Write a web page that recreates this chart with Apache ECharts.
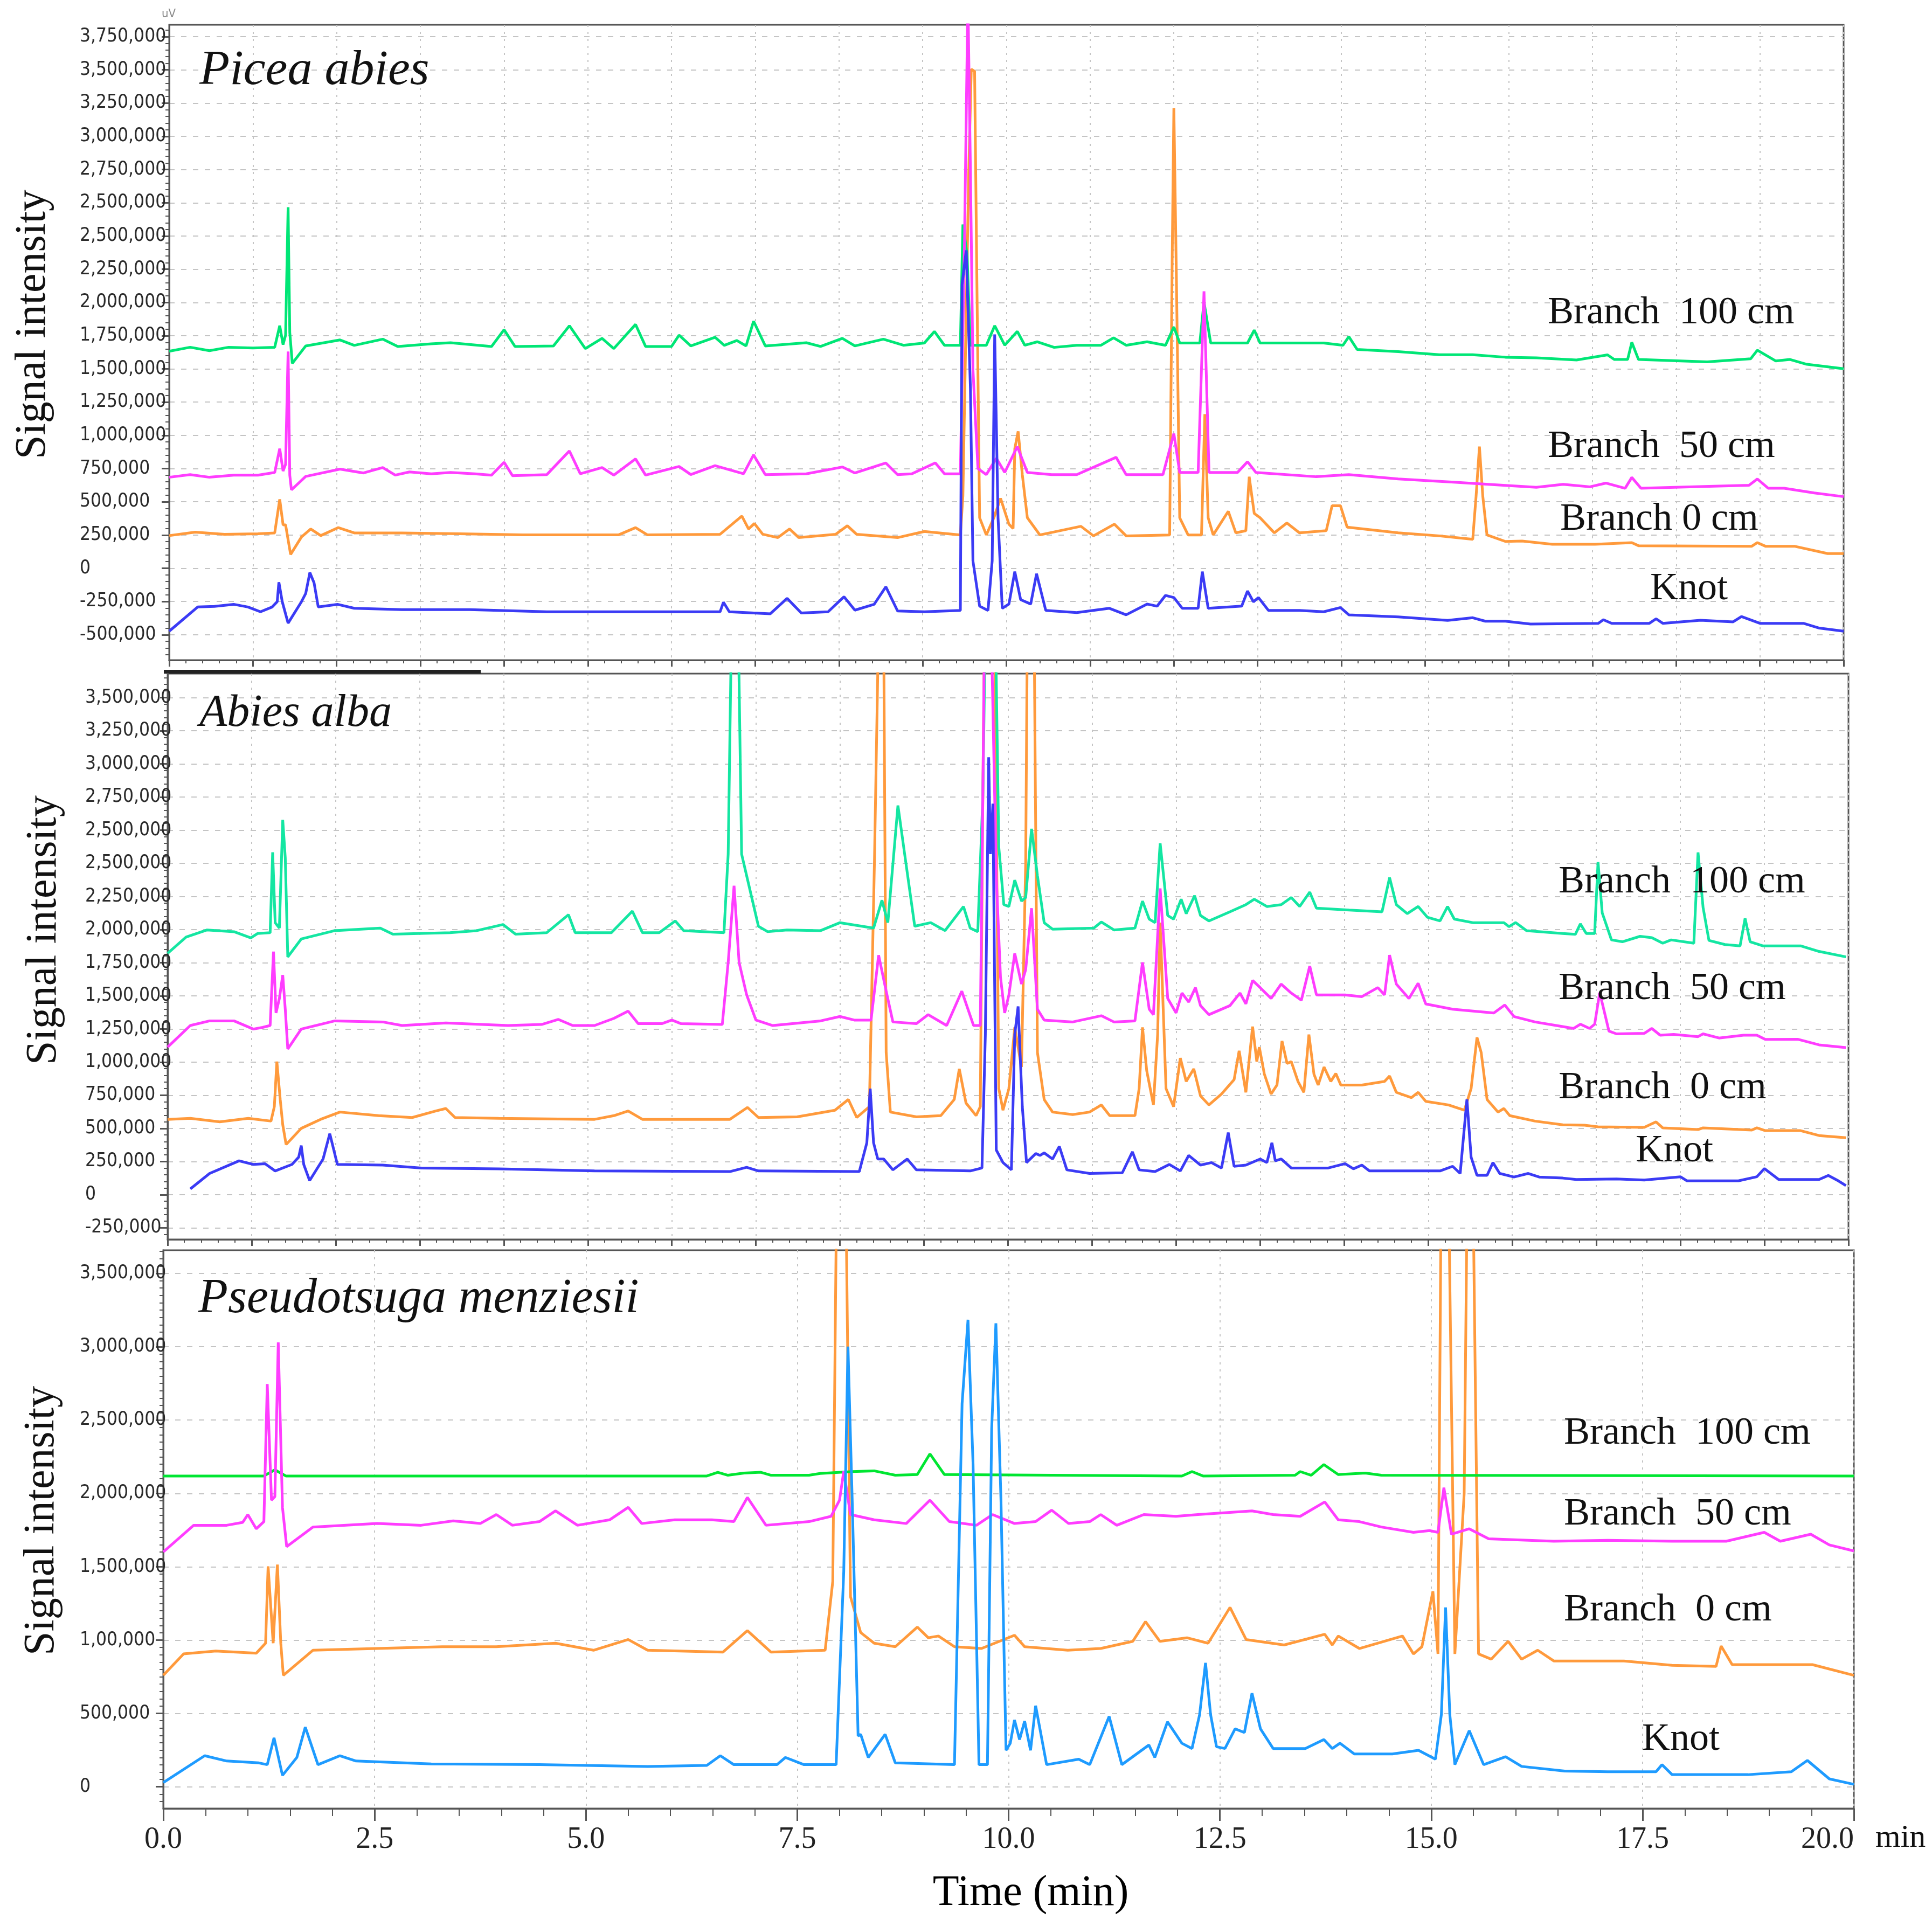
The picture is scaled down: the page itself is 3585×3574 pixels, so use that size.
<!DOCTYPE html>
<html>
<head>
<meta charset="utf-8">
<script src="https://cdn.jsdelivr.net/npm/echarts@6/dist/echarts.min.js"></script>
<style>
  html, body { margin: 0; padding: 0; background: #fff; }
  #chart { width: 3585px; height: 3574px; }
</style>
</head>
<body>
<div id="chart"></div>
<script>
// chromatograms, [time (min), signal (x1000)]
const p1Branch100 = [[0,1633],[0.25,1663],[0.48,1637],[0.71,1663],[1.0,1657],[1.26,1663],[1.32,1825],[1.36,1683],[1.39,1754],[1.42,2716],[1.44,1774],[1.47,1542],[1.63,1673],[2.04,1718],[2.21,1677],[2.55,1724],[2.73,1669],[3.13,1689],[3.36,1697],[3.85,1669],[4.0,1795],[4.13,1669],[4.59,1673],[4.78,1825],[4.97,1653],[5.17,1730],[5.31,1653],[5.57,1835],[5.69,1669],[6.0,1669],[6.09,1754],[6.23,1673],[6.52,1738],[6.63,1677],[6.78,1714],[6.89,1673],[6.98,1859],[7.12,1673],[7.61,1697],[7.78,1669],[8.04,1730],[8.19,1673],[8.53,1724],[8.77,1678],[9.02,1695],[9.14,1782],[9.26,1678],[9.45,1678],[9.48,2587],[9.53,2360],[9.57,1678],[9.76,1678],[9.86,1825],[9.98,1678],[10.13,1782],[10.22,1678],[10.37,1704],[10.57,1662],[10.84,1678],[11.13,1678],[11.28,1734],[11.43,1678],[11.68,1704],[11.9,1678],[12.0,1815],[12.07,1695],[12.31,1695],[12.36,2003],[12.44,1695],[12.88,1695],[12.96,1792],[13.03,1695],[13.5,1695],[13.79,1695],[14.02,1678],[14.09,1743],[14.19,1646],[14.68,1630],[15.17,1607],[15.57,1607],[15.96,1588],[16.33,1583],[16.81,1567],[17.18,1606],[17.26,1571],[17.42,1571],[17.47,1700],[17.55,1571],[18.37,1553],[18.89,1576],[18.97,1641],[19.19,1560],[19.36,1571],[19.55,1536],[20.0,1501]];
const p1Branch50 = [[0,685],[0.25,705],[0.48,685],[0.77,701],[1.06,701],[1.26,721],[1.32,900],[1.36,732],[1.39,782],[1.42,1631],[1.44,701],[1.46,590],[1.63,691],[2.04,746],[2.32,717],[2.55,758],[2.7,701],[2.87,725],[3.13,711],[3.36,721],[3.65,711],[3.85,701],[4.0,798],[4.1,697],[4.51,705],[4.78,883],[4.91,711],[5.17,758],[5.31,701],[5.57,823],[5.69,701],[6.09,766],[6.23,705],[6.52,772],[6.86,711],[6.98,853],[7.12,705],[7.61,711],[8.04,762],[8.19,717],[8.56,792],[8.7,705],[8.87,711],[9.15,793],[9.26,711],[9.45,711],[9.5,2500],[9.54,4300],[9.57,3000],[9.6,1500],[9.66,750],[9.76,705],[9.88,828],[9.98,721],[10.13,916],[10.25,721],[10.54,705],[10.84,705],[11.31,835],[11.43,705],[11.87,705],[12.0,1013],[12.07,721],[12.29,721],[12.36,2084],[12.42,721],[12.76,721],[12.88,802],[12.98,721],[13.7,689],[14.09,705],[14.68,672],[15.37,647],[15.96,624],[16.33,609],[16.65,632],[16.97,613],[17.16,641],[17.39,602],[17.47,684],[17.58,602],[18.45,618],[18.87,625],[18.97,672],[19.1,602],[19.29,602],[19.65,567],[20.0,539]];
const p1Branch0 = [[0,246],[0.31,272],[0.66,256],[1.06,260],[1.26,266],[1.32,519],[1.36,327],[1.39,327],[1.42,215],[1.45,104],[1.58,236],[1.69,296],[1.81,246],[2.02,306],[2.21,266],[2.78,266],[3.47,260],[4.22,252],[5.37,252],[5.57,306],[5.71,252],[6.58,256],[6.84,393],[6.92,296],[6.99,337],[7.09,256],[7.27,231],[7.41,296],[7.52,231],[7.96,256],[8.1,320],[8.21,256],[8.7,231],[9.02,277],[9.45,251],[9.48,543],[9.55,2976],[9.58,3755],[9.62,3739],[9.65,2003],[9.68,380],[9.76,251],[9.85,380],[9.93,526],[10.03,332],[10.08,299],[10.1,900],[10.14,1030],[10.19,705],[10.25,380],[10.4,251],[10.89,316],[11.04,244],[11.29,332],[11.43,244],[11.95,251],[11.98,2327],[12.0,3463],[12.03,2198],[12.07,380],[12.17,251],[12.33,251],[12.37,1159],[12.41,380],[12.47,251],[12.65,429],[12.74,267],[12.86,283],[12.9,689],[12.96,413],[13.03,380],[13.2,267],[13.35,341],[13.5,267],[13.82,283],[13.89,471],[13.99,471],[14.07,309],[14.68,267],[15.17,244],[15.57,218],[15.61,543],[15.65,916],[15.69,543],[15.74,251],[15.96,202],[16.16,205],[16.52,181],[17.03,181],[17.47,193],[17.55,170],[18.9,165],[18.97,193],[19.07,165],[19.42,165],[19.81,111],[20.0,111]];
const p1Knot = [[0,-473],[0.34,-291],[0.54,-287],[0.77,-271],[0.94,-291],[1.09,-327],[1.23,-291],[1.29,-251],[1.31,-105],[1.35,-251],[1.42,-413],[1.58,-251],[1.63,-190],[1.68,-32],[1.73,-109],[1.78,-291],[2.01,-271],[2.21,-301],[2.78,-311],[3.59,-311],[4.51,-327],[5.66,-327],[6.58,-327],[6.62,-255],[6.69,-327],[6.98,-336],[7.18,-342],[7.38,-226],[7.55,-336],[7.87,-327],[8.06,-214],[8.19,-315],[8.42,-271],[8.56,-139],[8.7,-321],[9.02,-327],[9.45,-317],[9.47,2133],[9.52,2392],[9.57,1354],[9.6,56],[9.68,-285],[9.78,-317],[9.83,56],[9.86,1760],[9.9,380],[9.95,-301],[10.03,-269],[10.1,-25],[10.17,-236],[10.29,-269],[10.36,-41],[10.47,-317],[10.84,-333],[11.23,-301],[11.43,-350],[11.68,-269],[11.8,-285],[11.9,-204],[12.0,-220],[12.1,-301],[12.29,-301],[12.34,-25],[12.41,-301],[12.81,-285],[12.88,-171],[12.95,-252],[13.01,-220],[13.13,-317],[13.5,-317],[13.79,-327],[13.99,-295],[14.09,-350],[14.68,-366],[15.27,-392],[15.57,-372],[15.72,-398],[15.96,-398],[16.26,-419],[17.07,-414],[17.13,-387],[17.23,-414],[17.68,-414],[17.76,-380],[17.84,-414],[18.29,-391],[18.68,-403],[18.78,-363],[19.0,-414],[19.52,-414],[19.71,-450],[20.0,-473]];

const p2Branch100 = [[0,1820],[0.22,1943],[0.47,1997],[0.79,1984],[0.99,1937],[1.07,1970],[1.22,1976],[1.25,2583],[1.28,2052],[1.33,2011],[1.37,2828],[1.4,2542],[1.43,1793],[1.59,1929],[1.99,1992],[2.53,2011],[2.68,1965],[3.36,1976],[3.68,1992],[3.99,2038],[4.14,1965],[4.51,1976],[4.77,2112],[4.85,1976],[5.28,1976],[5.53,2139],[5.65,1976],[5.85,1976],[6.04,2065],[6.14,1992],[6.62,1976],[6.67,2569],[6.71,4300],[6.79,4300],[6.83,2569],[6.89,2406],[7.03,2025],[7.14,1984],[7.37,1997],[7.77,1992],[8.0,2052],[8.4,2011],[8.5,2221],[8.57,2052],[8.69,2936],[8.77,2569],[8.89,2025],[9.08,2052],[9.25,1992],[9.47,2174],[9.55,2011],[9.64,1984],[9.7,3000],[9.73,4300],[9.85,4300],[9.89,2623],[9.95,2188],[10.01,2174],[10.08,2373],[10.16,2215],[10.21,2242],[10.28,2760],[10.35,2406],[10.43,2052],[10.53,2003],[11.02,2011],[11.11,2057],[11.26,1997],[11.51,2011],[11.6,2215],[11.68,2079],[11.75,2052],[11.81,2651],[11.9,2106],[11.97,2079],[12.06,2229],[12.12,2120],[12.22,2256],[12.29,2106],[12.39,2065],[12.64,2134],[12.83,2188],[12.93,2229],[13.08,2174],[13.25,2188],[13.37,2242],[13.47,2174],[13.59,2283],[13.67,2161],[14.06,2147],[14.45,2134],[14.54,2392],[14.62,2188],[14.75,2120],[14.88,2174],[14.99,2093],[15.14,2065],[15.23,2174],[15.31,2079],[15.53,2052],[15.9,2052],[15.96,2022],[16.04,2053],[16.17,1992],[16.6,1970],[16.75,1964],[16.81,2043],[16.88,1970],[16.98,1970],[17.02,2509],[17.07,2126],[17.18,1922],[17.31,1908],[17.52,1949],[17.66,1939],[17.79,1897],[17.89,1922],[18.16,1897],[18.21,2582],[18.27,2167],[18.34,1918],[18.53,1887],[18.71,1877],[18.77,2084],[18.83,1908],[18.98,1877],[19.43,1877],[19.65,1835],[19.97,1794]];
const p2Branch50 = [[0,1113],[0.27,1276],[0.5,1311],[0.79,1311],[1.02,1249],[1.13,1262],[1.22,1276],[1.26,1834],[1.29,1371],[1.33,1480],[1.37,1657],[1.4,1399],[1.43,1099],[1.59,1249],[1.99,1311],[2.56,1303],[2.79,1276],[3.31,1295],[4.05,1276],[4.45,1284],[4.65,1322],[4.82,1276],[5.08,1276],[5.31,1330],[5.48,1385],[5.6,1290],[5.88,1290],[6.0,1317],[6.11,1290],[6.6,1284],[6.67,1752],[6.74,2330],[6.8,1752],[6.89,1507],[7.0,1317],[7.2,1276],[7.77,1311],[8.0,1344],[8.17,1317],[8.37,1317],[8.46,1807],[8.55,1535],[8.63,1303],[8.91,1290],[9.05,1358],[9.27,1276],[9.45,1535],[9.59,1276],[9.67,1276],[9.7,3000],[9.72,4300],[9.8,4300],[9.86,2400],[9.91,1643],[9.96,1371],[10.01,1507],[10.08,1820],[10.16,1589],[10.21,1698],[10.28,2161],[10.35,1399],[10.43,1317],[10.77,1303],[11.11,1350],[11.26,1303],[11.51,1311],[11.6,1752],[11.68,1399],[11.73,1358],[11.81,2310],[11.9,1480],[12.0,1371],[12.07,1521],[12.15,1453],[12.23,1562],[12.29,1426],[12.39,1358],[12.64,1426],[12.76,1521],[12.83,1439],[12.91,1616],[13.0,1562],[13.13,1480],[13.25,1589],[13.37,1521],[13.49,1467],[13.59,1725],[13.67,1507],[14.01,1507],[14.21,1494],[14.4,1562],[14.48,1507],[14.54,1807],[14.62,1589],[14.77,1480],[14.88,1595],[14.97,1439],[15.29,1399],[15.78,1371],[15.91,1431],[16.02,1344],[16.27,1303],[16.6,1268],[16.73,1254],[16.81,1286],[16.92,1254],[16.98,1286],[17.04,1524],[17.08,1420],[17.15,1234],[17.24,1213],[17.57,1217],[17.66,1254],[17.76,1203],[17.92,1209],[18.21,1192],[18.27,1213],[18.46,1182],[18.75,1203],[18.91,1203],[19.01,1171],[19.4,1172],[19.65,1130],[19.97,1109]];
const p2Branch0 = [[0,568],[0.27,576],[0.62,549],[0.96,576],[1.23,555],[1.27,664],[1.3,1004],[1.34,718],[1.37,528],[1.41,378],[1.59,500],[1.82,568],[2.05,623],[2.51,596],[2.91,582],[3.19,631],[3.31,650],[3.42,582],[3.94,576],[5.08,568],[5.31,596],[5.48,631],[5.65,568],[6.69,568],[6.9,658],[7.03,582],[7.49,587],[7.94,637],[8.1,718],[8.2,582],[8.35,664],[8.41,2500],[8.46,4300],[8.52,4300],[8.55,1072],[8.6,623],[8.91,587],[9.2,596],[9.36,718],[9.42,949],[9.5,691],[9.62,596],[9.67,664],[9.7,3000],[9.72,4300],[9.84,4300],[9.89,800],[9.94,637],[10.01,800],[10.08,1262],[10.16,963],[10.21,2500],[10.23,4300],[10.31,4300],[10.35,1072],[10.43,718],[10.53,623],[10.77,604],[10.97,623],[11.11,677],[11.21,596],[11.51,596],[11.56,800],[11.6,1262],[11.65,936],[11.73,677],[11.78,1208],[11.81,2052],[11.88,800],[11.97,664],[12.05,1031],[12.12,854],[12.21,949],[12.29,745],[12.39,677],[12.54,759],[12.69,868],[12.75,1085],[12.83,772],[12.91,1268],[12.96,1004],[12.99,1113],[13.05,909],[13.13,759],[13.2,827],[13.26,1159],[13.32,990],[13.37,1004],[13.45,854],[13.52,772],[13.58,1208],[13.64,909],[13.69,827],[13.76,963],[13.84,854],[13.9,914],[13.96,827],[14.21,827],[14.48,854],[14.54,895],[14.62,772],[14.8,732],[14.88,772],[14.97,704],[15.24,677],[15.43,637],[15.51,800],[15.58,1186],[15.63,1072],[15.7,718],[15.83,623],[15.9,650],[15.97,596],[16.27,555],[16.6,527],[16.86,524],[17.02,512],[17.57,508],[17.71,549],[17.79,504],[18.21,491],[18.27,504],[18.85,487],[18.91,504],[19.01,483],[19.43,483],[19.65,446],[19.97,429]];
const p2Knot = [[0.27,43],[0.5,160],[0.85,255],[1.02,228],[1.16,233],[1.28,179],[1.48,228],[1.56,283],[1.59,370],[1.62,228],[1.69,106],[1.85,269],[1.93,460],[2.02,228],[2.56,223],[3.02,201],[3.94,195],[5.08,179],[6.69,174],[6.89,206],[7.03,179],[8.23,174],[8.32,391],[8.36,800],[8.4,391],[8.45,269],[8.52,269],[8.63,187],[8.8,269],[8.91,187],[9.55,179],[9.69,201],[9.73,1208],[9.77,3300],[9.79,2569],[9.82,2950],[9.86,337],[9.94,242],[10.04,187],[10.08,1208],[10.12,1420],[10.17,664],[10.22,242],[10.33,310],[10.38,296],[10.43,315],[10.53,269],[10.61,364],[10.7,187],[10.97,160],[11.36,165],[11.48,323],[11.56,187],[11.75,174],[11.92,228],[12.05,179],[12.15,296],[12.29,223],[12.42,242],[12.54,201],[12.62,468],[12.69,214],[12.83,223],[13.0,269],[13.08,242],[13.14,391],[13.18,255],[13.25,269],[13.37,201],[13.81,201],[14.01,234],[14.11,195],[14.21,223],[14.3,179],[15.14,179],[15.29,214],[15.38,160],[15.46,718],[15.51,283],[15.58,146],[15.7,146],[15.77,242],[15.85,160],[16.02,133],[16.19,160],[16.32,133],[16.6,125],[16.76,114],[17.24,118],[17.57,110],[18.0,135],[18.08,104],[18.69,104],[18.91,135],[19.0,197],[19.17,114],[19.65,114],[19.76,145],[19.88,104],[19.97,68]];

const p3Branch100 = [[0,2119],[1.19,2119],[1.32,2161],[1.45,2119],[6.43,2119],[6.56,2144],[6.68,2124],[6.87,2139],[7.07,2144],[7.19,2124],[7.64,2124],[7.77,2136],[8.15,2149],[8.41,2154],[8.66,2124],[8.92,2129],[9.07,2270],[9.24,2129],[12.05,2119],[12.17,2149],[12.3,2119],[13.39,2124],[13.45,2149],[13.58,2124],[13.73,2197],[13.9,2129],[14.22,2139],[14.41,2124],[20.0,2119]];
const p3Branch50 = [[0,1601],[0.36,1783],[0.75,1783],[0.94,1803],[1.0,1856],[1.1,1759],[1.19,1808],[1.23,2746],[1.28,1954],[1.32,1978],[1.36,3030],[1.41,1905],[1.46,1637],[1.77,1771],[2.53,1795],[3.05,1783],[3.43,1813],[3.75,1795],[3.94,1856],[4.13,1783],[4.45,1808],[4.64,1881],[4.9,1783],[5.28,1820],[5.5,1905],[5.66,1795],[6.05,1820],[6.49,1820],[6.75,1808],[6.91,1973],[7.13,1783],[7.64,1808],[7.9,1844],[8.0,1954],[8.05,2150],[8.13,1856],[8.41,1820],[8.79,1795],[9.07,1954],[9.3,1808],[9.62,1783],[9.81,1856],[10.07,1795],[10.32,1808],[10.51,1886],[10.71,1795],[10.96,1808],[11.09,1856],[11.28,1783],[11.6,1856],[11.98,1844],[12.24,1856],[12.88,1881],[13.13,1856],[13.45,1844],[13.74,1942],[13.9,1820],[14.15,1808],[14.41,1771],[14.79,1735],[14.98,1747],[15.08,1735],[15.15,2039],[15.24,1722],[15.45,1759],[15.68,1691],[16.45,1674],[17.09,1681],[17.85,1674],[18.49,1674],[18.94,1735],[19.13,1674],[19.49,1722],[19.71,1649],[20.0,1608]];
const p3Branch0 = [[0,760],[0.24,906],[0.62,926],[1.1,911],[1.21,979],[1.24,1503],[1.3,979],[1.35,1515],[1.39,979],[1.42,760],[1.77,931],[2.53,943],[3.3,955],[3.94,955],[4.64,979],[5.09,931],[5.5,1004],[5.73,931],[6.62,918],[6.91,1065],[7.19,918],[7.83,931],[7.92,1400],[7.97,4300],[8.07,4300],[8.13,1296],[8.25,1052],[8.41,979],[8.66,955],[8.92,1089],[9.05,1016],[9.17,1028],[9.36,955],[9.68,943],[10.07,1033],[10.19,955],[10.7,931],[11.09,943],[11.47,992],[11.62,1126],[11.79,992],[12.11,1016],[12.36,979],[12.62,1223],[12.81,1004],[13.26,967],[13.74,1040],[13.83,967],[13.9,1028],[14.15,943],[14.66,1028],[14.79,906],[14.89,955],[15.02,1333],[15.08,906],[15.12,4300],[15.2,4300],[15.28,906],[15.39,2000],[15.43,4300],[15.49,4300],[15.56,906],[15.71,870],[15.91,992],[16.07,870],[16.26,931],[16.45,858],[17.28,858],[17.85,828],[18.37,821],[18.43,960],[18.56,833],[19.13,833],[19.51,833],[20.0,760]];
const p3Knot = [[0,29],[0.49,212],[0.75,176],[1.13,163],[1.23,151],[1.31,334],[1.41,78],[1.58,200],[1.68,407],[1.83,151],[2.09,212],[2.28,176],[3.17,156],[4.45,151],[5.73,139],[6.43,146],[6.59,212],[6.75,151],[7.26,151],[7.36,200],[7.58,151],[7.96,151],[8.05,1467],[8.1,3001],[8.15,1954],[8.22,346],[8.25,358],[8.34,200],[8.54,358],[8.66,163],[9.36,151],[9.45,2612],[9.52,3184],[9.58,2197],[9.65,151],[9.75,151],[9.8,2441],[9.85,3160],[9.91,1954],[9.97,249],[10.02,297],[10.07,456],[10.13,322],[10.19,448],[10.26,249],[10.32,553],[10.45,151],[10.83,188],[10.96,151],[11.19,480],[11.34,151],[11.66,285],[11.73,200],[11.88,443],[12.05,297],[12.17,261],[12.26,492],[12.33,845],[12.39,492],[12.46,273],[12.56,261],[12.68,395],[12.79,370],[12.88,638],[12.98,395],[13.13,261],[13.51,261],[13.73,322],[13.83,261],[13.92,297],[14.09,224],[14.54,224],[14.85,249],[15.05,188],[15.12,492],[15.17,1223],[15.22,492],[15.28,151],[15.45,383],[15.62,151],[15.88,205],[16.07,139],[16.58,107],[17.09,103],[17.66,103],[17.73,151],[17.85,83],[18.75,83],[19.26,103],[19.45,180],[19.71,54],[20.0,17]];

// tick values (x1000) and the labels printed beside them, bottom to top
const p1Ticks = [-500,-250,0,250,500,750,1000,1250,1500,1750,2000,2250,2500,2750,3000,3250,3500,3750,4000];
const p1Labels = ['-500,000','-250,000','0','250,000','500,000','750,000','1,000,000','1,250,000','1,500,000','1,750,000','2,000,000','2,250,000','2,500,000','2,500,000','2,750,000','3,000,000','3,250,000','3,500,000','3,750,000'];
const p2Ticks = [-250,0,250,500,750,1000,1250,1500,1750,2000,2250,2500,2750,3000,3250,3500,3750];
const p2Labels = ['-250,000','0','250,000','500,000','750,000','1,000,000','1,250,000','1,500,000','1,750,000','2,000,000','2,250,000','2,500,000','2,500,000','2,750,000','3,000,000','3,250,000','3,500,000'];
const p3Ticks = [0,500,1000,1500,2000,2500,3000,3500];
const p3Labels = ['0','500,000','1,00,000','1,500,000','2,000,000','2,500,000','3,000,000','3,500,000'];

const species = ['Picea abies', 'Abies alba', 'Pseudotsuga menziesii'];
const sampleNames = ['Branch 100 cm', 'Branch 50 cm', 'Branch 0 cm', 'Knot'];

const tickFont = "'Liberation Sans Narrow', 'DejaVu Sans Condensed', sans-serif";
const serif = "'Liberation Serif', 'DejaVu Serif', serif";
const axisCol = '#555';
const gridCol = '#c4c4c4';

function minorSteps(lo, hi, step) {
  const out = [];
  for (let v = Math.ceil(lo / step) * step; v <= hi; v += step) out.push(v);
  return out;
}

function yAxes(grid, min, max, ticks, labels, margin) {
  return [
    {
      type: 'value', gridIndex: grid, min: min, max: max, position: 'left',
      axisLine: { show: true, lineStyle: { color: axisCol, width: 3 } },
      axisTick: { show: true, customValues: ticks, length: 14, lineStyle: { color: axisCol, width: 3 } },
      axisLabel: {
        customValues: ticks,
        formatter: function (v) { const i = ticks.indexOf(v); return i < 0 ? '' : labels[i]; },
        align: 'left', margin: margin, fontFamily: tickFont, fontSize: 35, color: '#2a2a2a'
      },
      splitLine: { show: true, lineStyle: { color: gridCol, width: 2, type: [10, 12] } }
    },
    {
      type: 'value', gridIndex: grid, min: min, max: max, position: 'left',
      axisLine: { show: false },
      axisTick: { show: true, customValues: minorSteps(min, max, 50), length: 7, lineStyle: { color: axisCol, width: 2 } },
      axisLabel: { show: false },
      splitLine: { show: false }
    }
  ];
}

function xAxis(grid, interval, showLabels, gridDash) {
  return {
    type: 'value', gridIndex: grid, min: 0, max: 20, interval: interval,
    axisLine: { show: true, onZero: false, lineStyle: { color: axisCol, width: 3 } },
    axisTick: { show: true, length: showLabels ? 23 : 12, lineStyle: { color: axisCol, width: 3 } },
    minorTick: { show: true, splitNumber: 5, length: showLabels ? 14 : 6, lineStyle: { color: axisCol, width: 2 } },
    axisLabel: {
      show: showLabels, margin: 30, fontFamily: serif, fontSize: 56, color: '#222',
      alignMaxLabel: 'right',
      formatter: function (v) { return v.toFixed(1); }
    },
    splitLine: { show: true, lineStyle: { color: gridCol, width: 2, type: gridDash } },
    name: showLabels ? 'Time (min)' : '',
    nameLocation: 'middle', nameGap: 118,
    nameTextStyle: { fontFamily: serif, fontSize: 80, color: '#000', padding: [0, 0, 0, 82] }
  };
}

const colors = {
  p1: ['#00E676', '#FF3DFF', '#FF9A3C', '#3B3BF5'],
  p2: ['#14E6A2', '#FF3DFF', '#FF9A3C', '#3B3BF5'],
  p3: ['#00E632', '#FF3DFF', '#FF9A3C', '#1E9BFF']
};

function traces(xi, yi, sets, cols) {
  // orange goes down first so the other traces sit on top of it
  const order = [2, 0, 1, 3];
  return order.map(function (k) {
    return {
      name: sampleNames[k], type: 'line', xAxisIndex: xi, yAxisIndex: yi,
      data: sets[k], showSymbol: false, symbol: 'none', clip: true,
      lineStyle: { color: cols[k], width: 5 }, itemStyle: { color: cols[k] }
    };
  });
}

function label(text, x, y, size, italic) {
  return {
    type: 'text', x: x, y: y, z: 100,
    style: {
      text: text, fill: '#111', align: 'left', verticalAlign: 'middle',
      font: (italic ? 'italic ' : '') + size + 'px ' + serif
    }
  };
}

function yTitle(x, y) {
  return {
    type: 'text', x: x, y: y, rotation: Math.PI / 2, z: 100,
    style: { text: 'Signal intensity', fill: '#111', align: 'center', verticalAlign: 'middle', font: '80px ' + serif }
  };
}

const chart = echarts.init(document.getElementById('chart'));
chart.setOption({
  animation: false,
  backgroundColor: '#fff',
  grid: [
    { left: 314, top: 46, width: 3107, height: 1179, show: true, borderColor: axisCol, borderWidth: 3 },
    { left: 311, top: 1250, width: 3119, height: 1050, show: true, borderColor: axisCol, borderWidth: 3 },
    { left: 303, top: 2320, width: 3137, height: 1036, show: true, borderColor: axisCol, borderWidth: 3 }
  ],
  xAxis: [
    xAxis(0, 1, false, [4, 9]),
    xAxis(1, 1, false, [4, 9]),
    xAxis(2, 2.5, true, [4, 9])
  ],
  yAxis: [].concat(
    yAxes(0, -691, 4089, p1Ticks, p1Labels, 166),
    yAxes(1, -338, 3931, p2Ticks, p2Labels, 153),
    yAxes(2, -148, 3658, p3Ticks, p3Labels, 155)
  ),
  series: [].concat(
    traces(0, 0, [p1Branch100, p1Branch50, p1Branch0, p1Knot], colors.p1),
    traces(1, 2, [p2Branch100, p2Branch50, p2Branch0, p2Knot], colors.p2),
    traces(2, 4, [p3Branch100, p3Branch50, p3Branch0, p3Knot], colors.p3)
  ),
  graphic: [
    yTitle(62, 602), yTitle(82, 1726), yTitle(78, 2822),
    label(species[0], 370, 132, 92, true),
    label(species[1], 370, 1325, 84, true),
    label(species[2], 368, 2411, 90, true),
    label('Branch  100 cm', 2872, 581, 72), label('Branch  50 cm', 2872, 829, 72),
    label('Branch 0 cm', 2895, 964, 72), label('Knot', 3062, 1093, 72),
    label('Branch  100 cm', 2892, 1637, 72), label('Branch  50 cm', 2892, 1835, 72),
    label('Branch  0 cm', 2892, 2019, 72), label('Knot', 3035, 2136, 72),
    label('Branch  100 cm', 2902, 2660, 72), label('Branch  50 cm', 2902, 2810, 72),
    label('Branch  0 cm', 2902, 2988, 72), label('Knot', 3047, 3228, 72),
    label('min', 3480, 3411, 60),
    { type: 'text', x: 300, y: 26, style: { text: 'uV', fill: '#888', font: '22px ' + tickFont, align: 'left', verticalAlign: 'middle' } },
    // heavy stroke along the top-left of the middle frame
    { type: 'rect', shape: { x: 304, y: 1243, width: 588, height: 7 }, style: { fill: '#222' } }
  ]
});
</script>
</body>
</html>
